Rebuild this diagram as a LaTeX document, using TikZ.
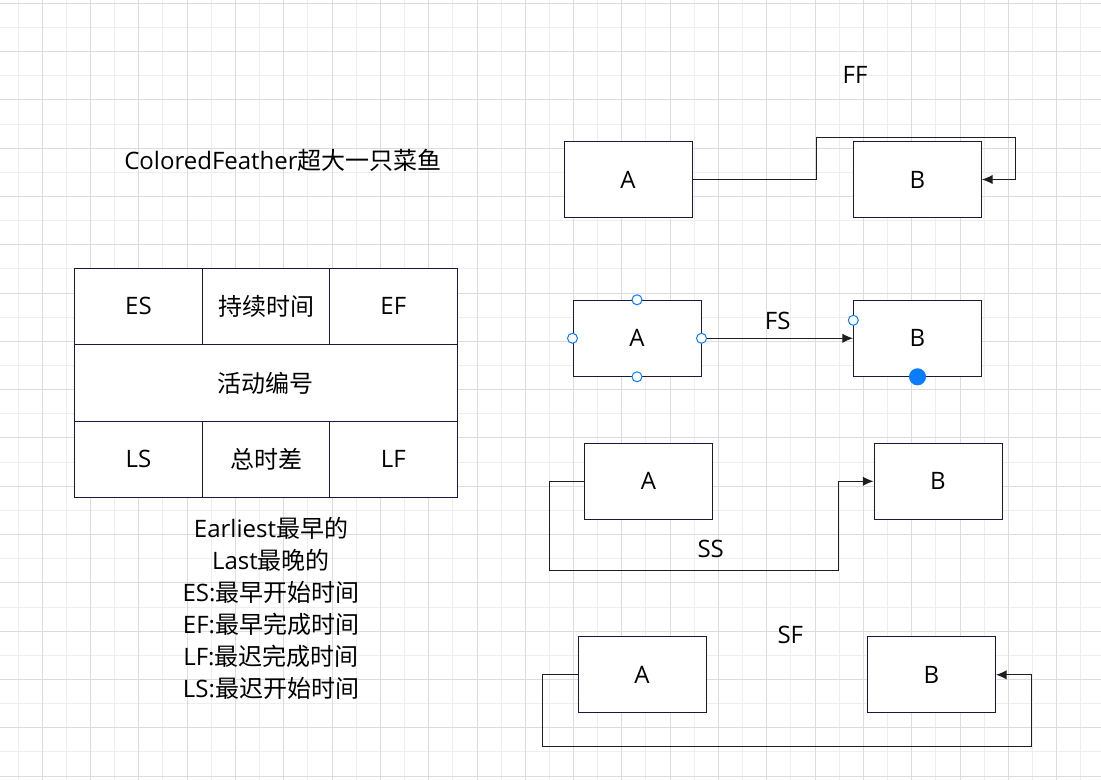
\documentclass[tikz,border=0pt]{standalone}
\usepackage{fontspec}
\usetikzlibrary{arrows.meta}
\setmainfont{Open Sans}
\newfontfamily\cjk{Noto Sans CJK SC}
\definecolor{boxline}{RGB}{24,24,64}
\definecolor{wire}{RGB}{30,30,30}
\definecolor{handle}{RGB}{10,124,255}
\definecolor{gridminor}{RGB}{238,238,238}
\definecolor{gridmajor}{RGB}{220,220,220}
\begin{document}
\begin{tikzpicture}[x=0.75pt,y=-0.75pt,>={Latex[length=8pt,width=7pt]}]
\tikzstyle{every node}=[draw=boxline,line width=0.75pt,minimum width=96pt,minimum height=57pt,fill=white,inner sep=0pt,font=\fontsize{18}{24}\selectfont]
\tikzstyle{lbl}=[draw=none,fill=none,minimum width=0pt,minimum height=0pt]
\tikzstyle{dot}=[circle,draw=handle,fill=white,minimum size=7.5pt,minimum width=7.5pt,minimum height=7.5pt]

% background and grid
\fill[white] (0,0) rectangle (1101,780);
\useasboundingbox (0,0) rectangle (1101,780);
\foreach \k in {0,...,22} \draw[gridminor,line width=0.75pt] ({18+48.3*\k},0) -- ({18+48.3*\k},780);
\foreach \k in {0,...,15} \draw[gridminor,line width=0.75pt] (0,{27.45+48.3*\k}) -- (1101,{27.45+48.3*\k});
\foreach \k in {0,...,21} \draw[gridmajor,line width=0.75pt] ({42.3+48.3*\k},0) -- ({42.3+48.3*\k},780);
\foreach \k in {0,...,16} \draw[gridmajor,line width=0.75pt] (0,{3.3+48.3*\k}) -- (1101,{3.3+48.3*\k});

% title and table
\node[lbl](title) at (283,160) {ColoredFeather{\cjk 超大一只菜鱼}};
\node(es) at (138.5,306.3) {ES};
\node(dur) at (266,306.3) {\cjk 持续时间};
\node(ef) at (393.3,306.3) {EF};
\node[minimum width=287.25pt,minimum height=57.75pt](id) at (265.8,382.8) {\cjk 活动编号};
\node(ls) at (138.5,459.3) {LS};
\node(tf) at (266,459.3) {\cjk 总时差};
\node(lf) at (393.3,459.3) {LF};
\node[lbl,align=center](notes) at (271,608.5) {Earliest{\cjk 最早的}\\Last{\cjk 最晚的}\\ES:{\cjk 最早开始时间}\\EF:{\cjk 最早完成时间}\\LF:{\cjk 最迟完成时间}\\LS:{\cjk 最迟开始时间}};

% FF
\node[lbl](ff) at (855,75) {FF};
\node(ffA) at (628,179.5) {A};
\node(ffB) at (917.5,179.5) {B};
\coordinate (ffT) at (816.3,137.3);
\coordinate (ffR) at (1015.3,137.3);
\draw[->,wire,line width=0.75pt] (ffA.east) -| (ffT) -- (ffR) |- (ffB.east);

% FS
\node(fsA) at (637,338.3) {A};
\node(fsB) at (917.5,338.3) {B};
\draw[->,wire,line width=0.75pt] (fsA.east) -- (fsB.west);
\node[lbl](fs) at (777.7,321) {FS};
\node[dot](h1) at (fsA.north) {};
\node[dot](h2) at (fsA.south) {};
\node[dot](h3) at (fsA.west) {};
\node[dot](h4) at (fsA.east) {};
\node[dot](h5) at (853.3,320.3) {};
\node[dot,fill=handle,minimum size=12pt,minimum width=12pt,minimum height=12pt](h6) at (fsB.south) {};

% SS
\node(ssA) at (648.5,481.3) {A};
\node(ssB) at (938,481.3) {B};
\coordinate (ssL) at (549.3,570.3);
\coordinate (ssR) at (838.3,570.3);
\draw[->,wire,line width=0.75pt] (ssA.west) -| (ssL) -- (ssR) |- (ssB.west);
\node[lbl](ss) at (710.7,549) {SS};

% SF
\node[lbl](sf) at (790.3,635) {SF};
\node(sfA) at (642,674.8) {A};
\node(sfB) at (931.5,674.8) {B};
\coordinate (sfL) at (542.3,747);
\coordinate (sfR) at (1031.3,747);
\draw[->,wire,line width=0.75pt] (sfA.west) -| (sfL) -- (sfR) |- (sfB.east);
\end{tikzpicture}
\end{document}
